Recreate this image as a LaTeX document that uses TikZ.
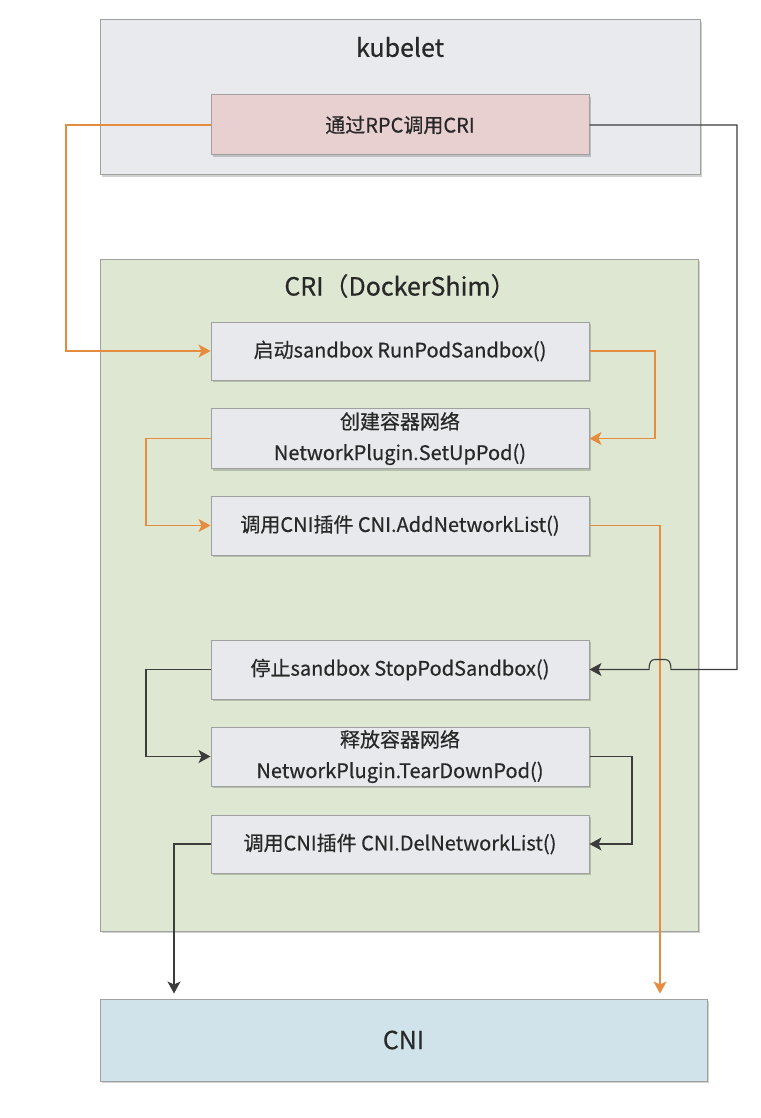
\documentclass[tikz,border=0pt]{standalone}
\usepackage{fontspec}
\setmainfont{Noto Sans CJK SC}[FakeBold=0.5]
\usetikzlibrary{arrows.meta,shadows,calc}
\definecolor{kubfill}{RGB}{233,234,238}
\definecolor{rpcfill}{RGB}{232,208,209}
\definecolor{crifill}{RGB}{222,231,209}
\definecolor{stepfill}{RGB}{232,233,237}
\definecolor{cnifill}{RGB}{209,227,234}
\definecolor{bordergray}{RGB}{160,160,160}
\definecolor{orangeline}{RGB}{230,140,62}
\definecolor{darkline}{RGB}{60,60,60}
\definecolor{txt}{RGB}{40,40,40}
\tikzset{
  shadowed/.style={drop shadow={shadow xshift=1.5pt,shadow yshift=-2pt,opacity=0.18,fill=black}},
  container/.style={draw=bordergray,line width=1pt,shadowed,inner sep=0pt},
  boxtext/.style={text=txt,font=\fontsize{20}{31}\selectfont},
  stepbox/.style={draw=bordergray,line width=1pt,fill=stepfill,shadowed,minimum width=378pt,align=center,inner sep=0pt,boxtext},
  titletext/.style={text=txt,font=\fontsize{25}{28}\selectfont},
  oline/.style={draw=orangeline,line width=1.1pt,-{Stealth[length=12pt,width=13pt,inset=3pt]}},
  kline/.style={draw=darkline,line width=1.1pt,-{Stealth[length=12pt,width=13pt,inset=3pt]}},
}
\begin{document}
\begin{tikzpicture}[x=1pt,y=-1pt]
\useasboundingbox (0,0) rectangle (760,1118);
% containers
\node[container,fill=kubfill,minimum width=600pt,minimum height=155pt] (kub) at (400,97.5) {};
\node[titletext] (kubt) at (400,47) {kubelet};
\node[draw=bordergray,line width=1pt,fill=rpcfill,shadowed,minimum width=378pt,minimum height=60pt,inner sep=0pt,boxtext] (rpc) at (400,125) {通过RPC调用CRI};
\node[container,fill=crifill,minimum width=598pt,minimum height=672pt] (cri) at (399,595) {};
\node[titletext] (crit) at (400,286) {CRI（DockerShim）};
\node[container,fill=cnifill,minimum width=607pt,minimum height=82pt,titletext] (cni) at (403.5,1040) {CNI};
% steps
\node[stepbox,minimum height=58pt] (run) at (400,351) {启动sandbox RunPodSandbox()};
\node[stepbox,minimum height=60pt] (setup) at (400,438.5) {创建容器网络\\NetworkPlugin.SetUpPod()};
\node[stepbox,minimum height=59pt] (add) at (400,525.5) {调用CNI插件 CNI.AddNetworkList()};
\node[stepbox,minimum height=59pt] (stop) at (400,669.5) {停止sandbox StopPodSandbox()};
\node[stepbox,minimum height=59pt] (tear) at (400,756.5) {释放容器网络\\NetworkPlugin.TearDownPod()};
\node[stepbox,minimum height=58pt] (del) at (400,844) {调用CNI插件 CNI.DelNetworkList()};
% routing coordinates
\coordinate (xa) at (66,0);
\coordinate (xb) at (737,0);
\coordinate (xc) at (655,0);
\coordinate (xd) at (146,0);
\coordinate (xe) at (660,0);
\coordinate (xf) at (632,0);
\coordinate (xg) at (174,0);
\coordinate (hopR) at (671,669.5);
% connectors
\draw[oline] (rpc.west) -- (rpc.west -| xa) |- (run.west);
\draw[oline] (run.east) -- (run.east -| xc) |- (setup.east);
\draw[oline] (setup.west) -- (setup.west -| xd) |- (add.west);
\draw[oline,shorten >=5pt] (add.east) -- (add.east -| xe) -- (xe |- cni.north);
\draw[kline] (rpc.east) -- (rpc.east -| xb) |- (hopR)
  .. controls ($(hopR)+(0,-7)$) and ($(hopR)+(-2,-10)$) .. ($(hopR)+(-6,-10)$)
  -- ($(hopR)+(-16,-10)$)
  .. controls ($(hopR)+(-20,-10)$) and ($(hopR)+(-22,-7)$) .. ($(hopR)+(-22,0)$)
  -- (stop.east);
\draw[kline] (stop.west) -- (stop.west -| xd) |- (tear.west);
\draw[kline] (tear.east) -- (tear.east -| xf) |- (del.east);
\draw[kline,shorten >=5pt] (del.west) -- (del.west -| xg) -- (xg |- cni.north);
\end{tikzpicture}
\end{document}
